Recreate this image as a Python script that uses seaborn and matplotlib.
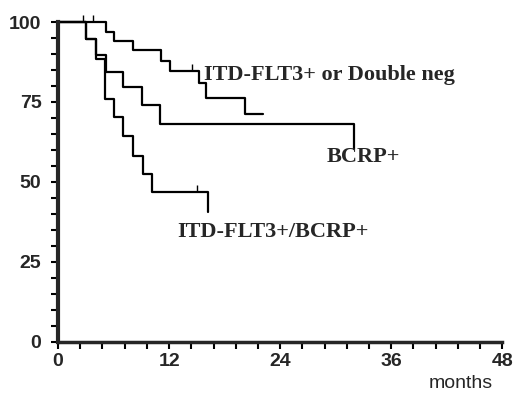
import matplotlib
matplotlib.use("Agg")
import matplotlib.pyplot as plt
import seaborn as sns
import pandas as pd
from matplotlib.ticker import MultipleLocator

# --- dati (mesi, sopravvivenza %) ---
t_neg = [0, 5.2, 6.0, 8.1, 11.1, 12.1, 15.2, 16.0, 20.2, 22.1]
s_neg = [100, 97.0, 94.2, 91.4, 87.8, 84.7, 80.8, 76.3, 71.1, 71.1]

t_bcrp = [0, 3.0, 4.1, 5.2, 7.0, 9.1, 11.0, 32.0]
s_bcrp = [100, 94.7, 89.7, 84.5, 79.6, 74.2, 68.0, 60.2]

t_both = [0, 3.0, 4.1, 5.05, 6.0, 7.0, 8.1, 9.2, 10.2, 16.2]
s_both = [100, 94.7, 88.3, 75.8, 70.2, 64.4, 58.2, 52.5, 47.0, 40.7]

groups = ["ITD-FLT3+ or Double neg", "BCRP+", "ITD-FLT3+/BCRP+"]

# censure (piccoli trattini)
cens_t = [2.7, 3.8, 14.5, 15.0]
cens_s = [100, 100, 84.7, 47.0]

df = pd.concat([
    pd.DataFrame({"months": t_neg, "surv": s_neg, "group": groups[0]}),
    pd.DataFrame({"months": t_bcrp, "surv": s_bcrp, "group": groups[1]}),
    pd.DataFrame({"months": t_both, "surv": s_both, "group": groups[2]}),
])

sns.set_style("ticks")
fig = plt.figure(figsize=(5.14, 3.93), dpi=100)
ax = fig.add_axes([0.113, 0.130, 0.864, 0.814])

sns.lineplot(data=df, x="months", y="surv", hue="group", units="group",
             estimator=None, sort=False, drawstyle="steps-post",
             palette=["black"] * 3, linewidth=1.6, legend=False, ax=ax,
             clip_on=False)
sns.scatterplot(x=cens_t, y=[s + 1.2 for s in cens_s], marker="|", color="black",
                s=25, linewidth=1, ax=ax, clip_on=False)

ax.set_xlim(0, 48)
ax.set_ylim(0, 100)
ax.xaxis.set_major_locator(MultipleLocator(12))
ax.xaxis.set_minor_locator(MultipleLocator(2.4))
ax.yaxis.set_major_locator(MultipleLocator(25))
ax.yaxis.set_minor_locator(MultipleLocator(5))
ax.tick_params(which="both", direction="out", length=5, width=1.5, color="black")
ax.tick_params(axis="y", pad=7)
ax.tick_params(axis="x", pad=3)
for lab in ax.get_xticklabels() + ax.get_yticklabels():
    lab.set_fontfamily("Liberation Sans")
    lab.set_fontweight("bold")
    lab.set_fontsize(14)
sns.despine(ax=ax)
ax.spines["left"].set_linewidth(3)
ax.spines["bottom"].set_linewidth(2.5)
ax.set_xlabel("")
ax.set_ylabel("")
ax.text(0.98, -0.13, "months", transform=ax.transAxes, ha="right", va="center",
        fontsize=14, family="Liberation Sans")

lab_kw = dict(family="Liberation Serif", fontweight="bold", fontsize=16, va="center")
ax.text(15.8, 83.4, groups[0], **lab_kw)
ax.text(29.0, 57.8, groups[1], **lab_kw)
ax.text(12.9, 34.4, groups[2], **lab_kw)

fig.savefig("out.png", dpi=100)
